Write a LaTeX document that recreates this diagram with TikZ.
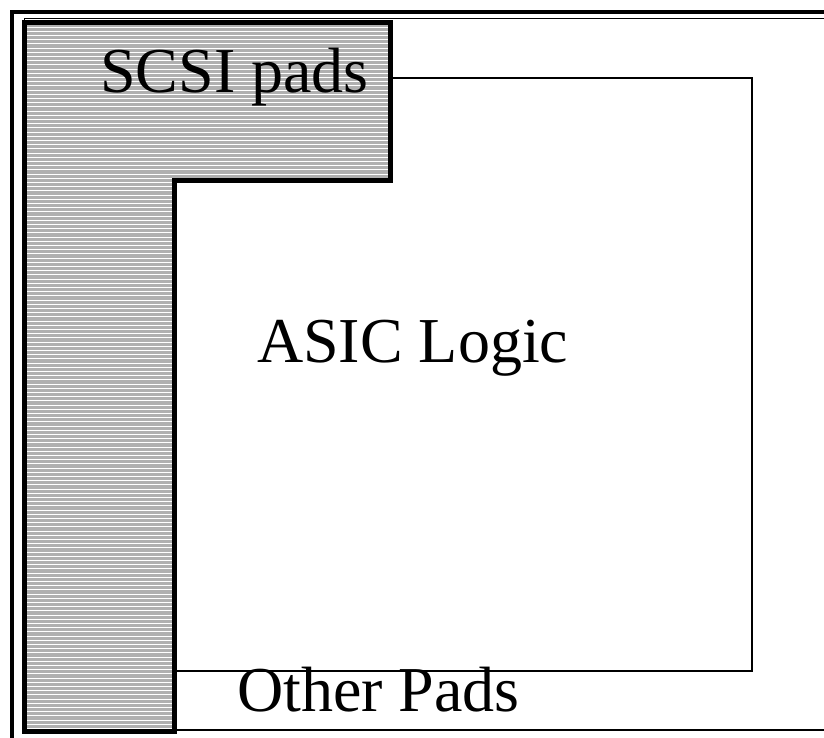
\documentclass[tikz,border=0pt]{standalone}
\usepackage{fontspec}
\setmainfont{Liberation Serif}
\definecolor{padgray}{RGB}{176,176,176}
\tikzset{every node/.style={inner sep=0pt, anchor=base west}}
\tikzset{frameout/.style={line width=4pt}, framein/.style={line width=1.5pt},
  logicbox/.style={line width=1.5pt}, padedge/.style={line width=5pt, line join=miter},
  bigtext/.style={font=\fontsize{64}{70}\selectfont}}

\begin{document}
\begin{tikzpicture}[x=1pt,y=-1pt]
  \useasboundingbox (0,0) rectangle (824,737);
  % chip frame, cut off at the right and bottom
  \draw[frameout] (12,11.8) rectangle (860,760);
  \draw[framein] (24.5,18.7) rectangle (840,730);
  % core area
  \draw[logicbox] (174,78) rectangle (752,671);
  % pad ring on two sides
  \begin{scope}
   \clip (24.5,22) -- (390,22) -- (390,180.5) -- (174.5,180.5) -- (174.5,731) -- (24.5,731) -- cycle;
   \fill[padgray] (0,0) rectangle (400,740);
   \foreach \y in {27,31.2,...,731}
    \draw[white, line width=1pt] (20,\y) -- (400,\y);
  \end{scope}
  \draw[padedge] (24.5,22) -- (390,22) -- (390,180.5) -- (174.5,180.5) -- (174.5,731) -- (24.5,731) -- cycle;
  \node[bigtext] (scsi) at (100,92) {SCSI pads};
  \node[bigtext] (asic) at (257,362) {ASIC Logic};
  \node[bigtext] (other) at (237,711) {Other Pads};
\end{tikzpicture}
\end{document}
